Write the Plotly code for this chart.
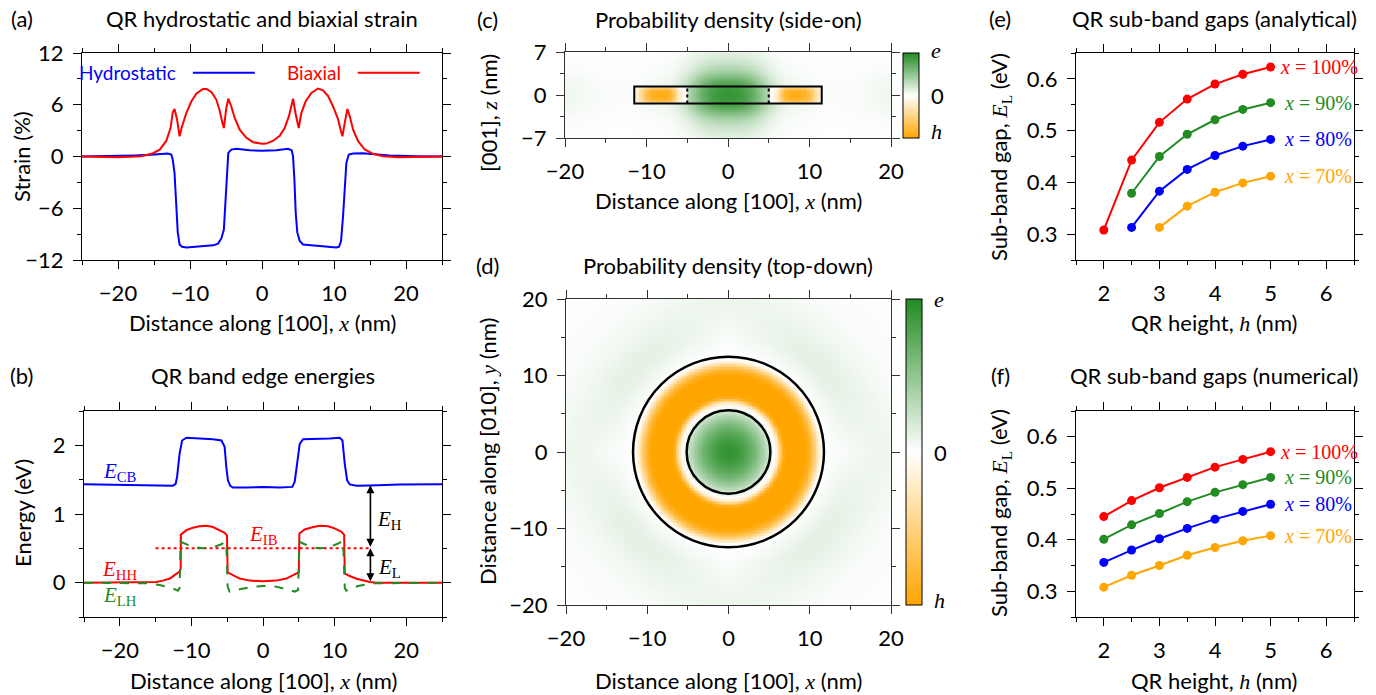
import numpy as np
import plotly.graph_objects as go

W, H = 1376, 695
FONT = "Lato"
SERIF = "Liberation Serif"
FS = 22
BLUE, RED, GREEN, ORANGE = "#0000FF", "#FF0000", "#228B22", "#FFA500"

# ---------------- (a) strain ----------------
hyd_x = [-25, -20, -17.7, -15.4, -13.8, -13.1, -12.6, -12.4, -12.15, -11.9, -11.7, -11.45, -11.1, -10.5, -8.7,
         -6.8, -6.1, -5.65, -5.3, -5.1, -4.9, -4.68, -4.26, -3.57, -1.7, 0, 2.0, 3.6, 4.12, 4.31, 4.5, 4.68,
         4.9, 5.24, 5.7, 7.1, 8.94, 10.33, 10.7, 10.98, 11.26, 11.49, 11.72, 12.05, 12.65, 14.0, 15.43, 17.7,
         21.5, 25]
hyd_y = [0, 0.04, 0.12, 0.2, 0.35, 0.35, 0.23, -0.35, -1.9, -5.75, -8.8, -10.2, -10.46, -10.54, -10.4,
         -10.3, -10.1, -9.5, -8.5, -5.75, -1.9, 0.42, 0.8, 0.89, 0.73, 0.66, 0.73, 0.89, 0.73, 0.04, -2.66, -6.5,
         -8.8, -9.8, -10.2, -10.3, -10.4, -10.54, -10.46, -9.8, -6.9, -3.4, -0.73, 0.23, 0.35, 0.39, 0.27, 0.12,
         0.04, 0]
bia_x = [-25, -20, -16.8, -15.2, -14.2, -13.3, -12.7, -12.4, -12.15, -11.8, -11.45, -11.1, -10.5, -9.8, -9.1,
         -8.2, -7.7, -7.0, -6.35, -5.9, -5.5, -5.3, -4.96, -4.68, -4.26, -3.8, -3.1, -2.2, -1.25, 0, 0.6, 1.5,
         2.46, 3.15, 3.75, 4.31, 4.68, 5.1, 5.47, 6.07, 6.86, 7.78, 8.48, 9.18, 9.87, 10.57, 11.03, 11.17,
         11.49, 11.86, 12.19, 12.65, 13.35, 14.27, 15.43, 16.8, 19.0, 25]
bia_y = [0, -0.08, 0.04, 0.35, 0.8, 1.8, 3.3, 5.1, 5.5, 4.3, 2.35, 3.5, 5.06, 6.4, 7.3,
         7.84, 7.84, 7.45, 6.6, 5.4, 3.9, 3.3, 5.6, 6.7, 5.8, 4.5, 3.1, 2.2, 1.66, 1.47, 1.5, 1.8,
         2.4, 3.3, 4.7, 6.7, 4.9, 3.3, 5.06, 6.4, 7.37, 7.88, 7.68, 7.0, 5.8, 4.3, 2.74, 2.35,
         3.9, 5.5, 4.67, 3.1, 1.78, 0.81, 0.31, 0.04, -0.08, 0]

# ---------------- (b) band edges ----------------
ecb_x = [-25, -12.6, -12.2, -12.0, -11.65, -11.3, -10.7, -8.86, -7.0, -5.8, -5.36, -5.13, -4.9, -4.57, -4.2,
         -2.33, 0, 2.33, 4.1, 4.43, 4.75, 5.13, 5.6, 7.46, 9.32, 10.72, 11.1, 11.42, 11.75, 12.12, 13.05,
         14.92, 19.1, 25]
ecb_y = [1.433, 1.41, 1.44, 1.54, 1.88, 2.07, 2.11, 2.10, 2.09, 2.07, 1.98, 1.69, 1.49, 1.41, 1.385,
         1.385, 1.395, 1.385, 1.395, 1.47, 1.73, 2.02, 2.09, 2.09, 2.10, 2.11, 2.07, 1.73, 1.49, 1.43, 1.41,
         1.414, 1.43, 1.433]
ehh_x = [-25, -15.8, -14.9, -14.0, -13.0, -12.35, -11.65, -11.5, -11.47, -10.7, -9.8, -8.86, -7.9, -7.0,
         -6.06, -5.36, -5.03, -4.94, -4.2, -3.26, -1.86, 0, 1.86, 3.26, 4.2, 5.0, 5.08, 5.83, 7.0, 8.0, 9.1,
         10.0, 10.96, 11.33, 11.42, 12.12, 13.05, 13.99, 14.92, 15.85, 25]
ehh_y = [0, 0, 0.01, 0.03, 0.06, 0.11, 0.16, 0.2, 0.70, 0.765, 0.80, 0.82, 0.83, 0.81,
         0.765, 0.726, 0.69, 0.15, 0.11, 0.06, 0.03, 0.02, 0.03, 0.06, 0.11, 0.15, 0.717, 0.775, 0.81, 0.83, 0.82,
         0.79, 0.74, 0.70, 0.136, 0.097, 0.058, 0.03, 0.01, 0, 0]
elh_x = [-25, -16.0, -14.45, -13.5, -12.6, -11.9, -11.65, -11.5, -10.7, -9.8, -8.4, -7.0, -5.83, -5.13,
         -4.94, -4.66, -3.26, -1.4, 0, 1.86, 3.26, 4.43, 4.9, 5.08, 5.83, 7.0, 8.16, 9.32, 10.49, 11.19,
         11.42, 11.65, 12.35, 13.29, 14.45, 15.6, 25]
elh_y = [0, -0.01, -0.034, -0.058, -0.082, -0.116, -0.08, 0.596, 0.56, 0.52, 0.50, 0.513, 0.56, 0.596,
         -0.058, -0.13, -0.097, -0.058, -0.048, -0.058, -0.097, -0.13, -0.107, 0.596, 0.56, 0.513, 0.50, 0.52,
         0.57, 0.61, -0.08, -0.116, -0.082, -0.048, -0.024, -0.01, 0]
eib_x = [-15, 15]
eib_y = [0.5, 0.5]
arrow_x = 15          # position of the E_H / E_L arrows
e_ib, e_vb, e_cb = 0.5, 0.0, 1.42

# ---------------- (c) side-on density (read profiles) ----------------
c_gx_pos = [0, 1, 2, 3, 4, 5, 6, 7, 8, 10, 12, 14, 16, 18, 20]
c_gx_val = [0.92, 0.9, 0.84, 0.72, 0.52, 0.32, 0.18, 0.1, 0.07, 0.04, 0.02, 0.02, 0.03, 0.05, 0.07]
c_gz_pos = [0, 1, 2, 3, 4, 5, 6, 7]
c_gz_val = [1.0, 0.97, 0.85, 0.62, 0.42, 0.3, 0.2, 0.14]
c_ox_pos = [0, 5.0, 5.2, 6.0, 6.5, 7.0, 7.5, 8.5, 9.5, 10.3, 11.0, 11.5, 11.6, 20]
c_ox_val = [0, 0, -0.32, -0.4, -0.7, -0.92, -1.0, -1.0, -0.9, -0.65, -0.3, -0.08, 0, 0]
c_oz_pos = [0, 0.6, 1.0, 1.3, 1.45, 1.6, 7]
c_oz_val = [1.0, 0.95, 0.78, 0.45, 0.12, 0, 0]
ring_inner, ring_outer, ring_half_h = 5.0, 11.5, 1.4

# ---------------- (d) top-down density (radial profiles read) ----------------
d_r_pos = [0, 1, 2, 3, 4, 4.6, 5.3, 5.6, 6.0, 6.3, 6.6, 7.0, 8.0, 9.4, 10.0, 10.5, 11.0, 11.3, 11.6,
           12.5, 13.5, 14.5, 15.5, 16.5, 17.5, 18.5, 19.5, 21, 23, 26, 30]
d_axis_val = [0.92, 0.9, 0.8, 0.66, 0.46, 0.32, 0.12, 0.0, -0.2, -0.5, -0.85, -1.0, -1.0, -1.0, -0.85, -0.6,
              -0.25, -0.05, 0.0, 0.01, 0.02, 0.03, 0.045, 0.06, 0.075, 0.08, 0.075, 0.05, 0.03, 0.01, 0]
d_diag_val = [0.92, 0.9, 0.8, 0.66, 0.46, 0.32, 0.12, 0.0, -0.2, -0.5, -0.85, -1.0, -1.0, -1.0, -0.85, -0.6,
              -0.25, -0.05, 0.0, 0.04, 0.08, 0.11, 0.12, 0.11, 0.09, 0.07, 0.05, 0.03, 0.02, 0.01, 0]
circ_inner_rx, circ_inner_ry = 5.15, 5.45
circ_outer_rx, circ_outer_ry = 11.75, 12.45

# ---------------- (e)/(f) sub-band gaps ----------------
h_vals = [2.0, 2.5, 3.0, 3.5, 4.0, 4.5, 5.0]
comp_labels = ["100%", "90%", "80%", "70%"]
comp_colors = [RED, GREEN, BLUE, ORANGE]
ana = {
    "100%": [0.308, 0.443, 0.516, 0.561, 0.590, 0.609, 0.623],
    "90%": [None, 0.379, 0.450, 0.493, 0.521, 0.541, 0.554],
    "80%": [None, 0.313, 0.383, 0.425, 0.452, 0.470, 0.483],
    "70%": [None, None, 0.313, 0.354, 0.381, 0.399, 0.412],
}
num = {
    "100%": [0.445, 0.476, 0.501, 0.521, 0.541, 0.556, 0.571],
    "90%": [0.401, 0.429, 0.451, 0.474, 0.492, 0.507, 0.521],
    "80%": [0.356, 0.380, 0.402, 0.422, 0.440, 0.455, 0.469],
    "70%": [0.308, 0.331, 0.350, 0.370, 0.385, 0.398, 0.408],
}


def px(x):
    return x / W


def py(y):
    return 1 - y / H


def serif(s):
    return "<span style='font-family:%s'>%s</span>" % (SERIF, s)


fig = go.Figure()

# (a)
fig.add_trace(go.Scatter(x=hyd_x, y=hyd_y, mode="lines", line=dict(color=BLUE, width=2), xaxis="x", yaxis="y"))
fig.add_trace(go.Scatter(x=bia_x, y=bia_y, mode="lines", line=dict(color=RED, width=2), xaxis="x", yaxis="y"))
# (b)
fig.add_trace(go.Scatter(x=ecb_x, y=ecb_y, mode="lines", line=dict(color=BLUE, width=2), xaxis="x2", yaxis="y2"))
fig.add_trace(go.Scatter(x=eib_x, y=eib_y, mode="lines", line=dict(color=RED, width=2, dash="dot"), xaxis="x2", yaxis="y2"))
fig.add_trace(go.Scatter(x=ehh_x, y=ehh_y, mode="lines", line=dict(color=RED, width=2), xaxis="x2", yaxis="y2"))
fig.add_trace(go.Scatter(x=elh_x, y=elh_y, mode="lines", line=dict(color=GREEN, width=2, dash="dash"), xaxis="x2", yaxis="y2"))

colorscale = [[0, ORANGE], [0.5, "#FFFFFF"], [1, GREEN]]

# (c) heatmap
cx = np.arange(-20, 20.001, 0.2)
cz = np.arange(-7, 7.001, 0.1)
XX, ZZ = np.meshgrid(cx, cz)
ax_ = np.abs(XX)
az_ = np.abs(ZZ)
cval = (np.interp(ax_, c_gx_pos, c_gx_val) * np.interp(az_, c_gz_pos, c_gz_val)
        + np.interp(ax_, c_ox_pos, c_ox_val) * np.interp(az_, c_oz_pos, c_oz_val))
cval = np.clip(cval, -1, 1)
fig.add_trace(go.Heatmap(x=cx, y=cz, z=cval, colorscale=colorscale, zmin=-1, zmax=1, xaxis="x3", yaxis="y3",
                         hoverinfo="skip",
                         colorbar=dict(x=px(903), xanchor="left", y=py(53), yanchor="top", len=85 / H,
                                       lenmode="fraction", thickness=16, outlinewidth=1, outlinecolor="black",
                                       showticklabels=False, ticks="", xpad=0, ypad=0)))

# (d) heatmap
dx = np.arange(-20, 20.001, 0.2)
dy = np.arange(-20, 20.001, 0.2)
DX, DY = np.meshgrid(dx, dy)
rr = np.sqrt(DX ** 2 + (DY * circ_outer_rx / circ_outer_ry) ** 2)
theta = np.arctan2(DY, DX)
wdiag = np.abs(np.sin(2 * theta))
dval = (1 - wdiag) * np.interp(rr, d_r_pos, d_axis_val) + wdiag * np.interp(rr, d_r_pos, d_diag_val)
fig.add_trace(go.Heatmap(x=dx, y=dy, z=dval, colorscale=colorscale, zmin=-1, zmax=1, xaxis="x4", yaxis="y4",
                         hoverinfo="skip",
                         colorbar=dict(x=px(906), xanchor="left", y=py(299), yanchor="top", len=306 / H,
                                       lenmode="fraction", thickness=16, outlinewidth=1, outlinecolor="black",
                                       showticklabels=False, ticks="", xpad=0, ypad=0)))

# (e), (f)
for data, xa, ya in [(ana, "x5", "y5"), (num, "x6", "y6")]:
    for lab, col in zip(comp_labels, comp_colors):
        fig.add_trace(go.Scatter(x=h_vals, y=data[lab], mode="lines+markers",
                                 line=dict(color=col, width=2), marker=dict(color=col, size=9),
                                 xaxis=xa, yaxis=ya, connectgaps=False))


def axis(domain, rng, dtick, minor, anchor, fmt=None, lc="black"):
    d = dict(domain=domain, range=rng, dtick=dtick, tick0=0, ticks="outside", ticklen=8, tickwidth=1.3,
             tickcolor=lc, showline=True, linecolor=lc, linewidth=1.3, mirror="ticks", showgrid=False,
             zeroline=False, anchor=anchor, ticklabelstandoff=5,
             minor=dict(dtick=minor, tick0=0, ticks="outside", ticklen=4, tickwidth=1.3, tickcolor=lc),
             tickfont=dict(family=FONT, size=FS, color="black"))
    if fmt:
        d["tickformat"] = fmt
    return d


yA = [py(260), py(53)]
yB = [py(617), py(411)]
fig.update_layout(
    width=W, height=H, margin=dict(l=0, r=0, t=0, b=0), template="none",
    paper_bgcolor="white", plot_bgcolor="white", showlegend=False,
    xaxis=axis([px(82), px(442)], [-25, 25], 10, 5, "y"),
    yaxis=axis(yA, [-12, 12], 6, 3, "x"),
    xaxis2=axis([px(84), px(442)], [-25, 25], 10, 5, "y2"),
    yaxis2=axis(yB, [-0.5, 2.5], 1, 0.5, "x2"),
    xaxis3=axis([px(565), px(891)], [-20, 20], 10, 5, "y3", lc="#333333"),
    yaxis3=axis([py(138), py(52)], [-7, 7], 7, 3.5, "x3", lc="#333333"),
    xaxis4=axis([px(566), px(891)], [-20, 20], 10, 5, "y4", lc="#333333"),
    yaxis4=axis([py(605), py(299)], [-20, 20], 10, 5, "x4", lc="#333333"),
    xaxis5=axis([px(1076), px(1354)], [1.5, 6.5], 1, 0.5, "y5"),
    yaxis5=axis(yA, [0.25, 0.65], 0.1, 0.05, "x5", fmt=".1f"),
    xaxis6=axis([px(1076), px(1354)], [1.5, 6.5], 1, 0.5, "y6"),
    yaxis6=axis(yB, [0.25, 0.65], 0.1, 0.05, "x6", fmt=".1f"),
)

ann = []
shapes = []


def text(xp, ypix, s, size=FS, angle=0, xanchor="center", color="black", family=FONT):
    ann.append(dict(x=px(xp), y=py(ypix), xref="paper", yref="paper", text=s, showarrow=False,
                    xanchor=xanchor, yanchor="middle", textangle=angle,
                    font=dict(family=family, size=size, color=color)))


xlab_dist = "Distance along [100], " + serif("<i>x</i>") + " (nm)"
# titles & panel letters
text(22, 18, "(a)"); text(262, 18, "QR hydrostatic and biaxial strain")
text(21, 375, "(b)"); text(263, 375, "QR band edge energies")
text(487, 19, "(c)"); text(728, 19, "Probability density (side-on)")
text(487, 265, "(d)"); text(728, 265, "Probability density (top-down)")
text(1000, 18, "(e)"); text(1214, 18, "QR sub-band gaps (analytical)")
text(1000, 375, "(f)"); text(1214, 375, "QR sub-band gaps (numerical)")
# axis titles
text(22, 157, "Strain (%)", angle=-90)
text(262, 323, xlab_dist)
text(22, 513, "Energy (eV)", angle=-90)
text(263, 680, xlab_dist)
text(488, 113, "[001], " + serif("<i>z</i>") + " (nm)", angle=-90)
text(728, 200, xlab_dist)
text(487, 452, "Distance along [010], " + serif("<i>y</i>") + " (nm)", angle=-90)
text(728, 680, xlab_dist)
ylab_gap = "Sub-band gap, " + serif("<i>E</i><sub>L</sub>") + " (eV)"
text(1000, 157, ylab_gap, angle=-90)
text(1214, 323, "QR height, " + serif("<i>h</i>") + " (nm)")
text(1000, 513, ylab_gap, angle=-90)
text(1214, 680, "QR height, " + serif("<i>h</i>") + " (nm)")

# colorbar labels
for (xx, yt, ym, yb) in [(929, 50, 95, 132), (932, 299, 452, 600)]:
    text(xx, yt, "<i>e</i>", family=SERIF, xanchor="left", size=22)
    text(xx, ym, "0", xanchor="left")
    text(xx, yb, "<i>h</i>", family=SERIF, xanchor="left", size=22)
for (x0, x1, yy) in [(903, 919, 95.5), (906, 922, 452)]:
    shapes.append(dict(type="line", xref="paper", yref="paper", x0=px(x0), x1=px(x1), y0=py(yy), y1=py(yy),
                       line=dict(color="black", width=1, dash="3px,2px")))

# (a) legend
ann.append(dict(x=-11.7, y=9.7, xref="x", yref="y", text="Hydrostatic", showarrow=False, xanchor="right",
                font=dict(family=FONT, size=19, color=BLUE)))
shapes.append(dict(type="line", xref="x", yref="y", x0=-9.6, x1=-1.0, y0=9.7, y1=9.7, line=dict(color=BLUE, width=2)))
ann.append(dict(x=11.3, y=9.7, xref="x", yref="y", text="Biaxial", showarrow=False, xanchor="right",
                font=dict(family=FONT, size=19, color=RED)))
shapes.append(dict(type="line", xref="x", yref="y", x0=13.3, x1=21.9, y0=9.7, y1=9.7, line=dict(color=RED, width=2)))


# (b) labels and arrows
def blab(x, y, s, col):
    ann.append(dict(x=x, y=y, xref="x2", yref="y2", text="<i>E</i><sub>%s</sub>" % s, showarrow=False,
                    font=dict(family=SERIF, size=21, color=col)))


blab(-20, 1.61, "CB", BLUE)
blab(-20, 0.19, "HH", RED)
blab(-20, -0.2, "LH", GREEN)
blab(0, 0.70, "IB", RED)
blab(17.7, 0.91, "H", "black")
blab(17.7, 0.22, "L", "black")
for (y0, y1) in [(e_vb, e_ib), (e_ib, e_cb)]:
    ann.append(dict(x=arrow_x, y=y1, ax=arrow_x, ay=y0, xref="x2", yref="y2", axref="x2", ayref="y2",
                    text="", showarrow=True, arrowhead=2, startarrowhead=2, arrowside="end+start",
                    arrowsize=1, startarrowsize=1, arrowwidth=1.6, arrowcolor="black", standoff=0, startstandoff=0))

# (c) ring cross-section box
shapes.append(dict(type="rect", xref="x3", yref="y3", x0=-ring_outer, x1=ring_outer, y0=-ring_half_h,
                   y1=ring_half_h, line=dict(color="black", width=2)))
for s in (-1, 1):
    shapes.append(dict(type="line", xref="x3", yref="y3", x0=s * ring_inner, x1=s * ring_inner,
                       y0=-ring_half_h, y1=ring_half_h, line=dict(color="black", width=2, dash="3px,3px")))
# (d) circles
for rx, ry in [(circ_inner_rx, circ_inner_ry), (circ_outer_rx, circ_outer_ry)]:
    shapes.append(dict(type="circle", xref="x4", yref="y4", x0=-rx, x1=rx, y0=-ry, y1=ry,
                       line=dict(color="black", width=2.5)))

# (e)/(f) series labels
for data, xr, yr in [(ana, "x5", "y5"), (num, "x6", "y6")]:
    for lab, col in zip(comp_labels, comp_colors):
        ann.append(dict(x=5.13 if lab == "100%" else 5.2, y=data[lab][-1], xref=xr, yref=yr, showarrow=False,
                        xanchor="left", yanchor="middle", text="<i>x</i> = " + lab,
                        font=dict(family=SERIF, size=20, color=col)))

fig.update_layout(annotations=ann, shapes=shapes)
fig.write_html("out.html", config={"displayModeBar": False},
               post_script="document.body.style.margin='0';document.body.style.overflow='hidden';")
